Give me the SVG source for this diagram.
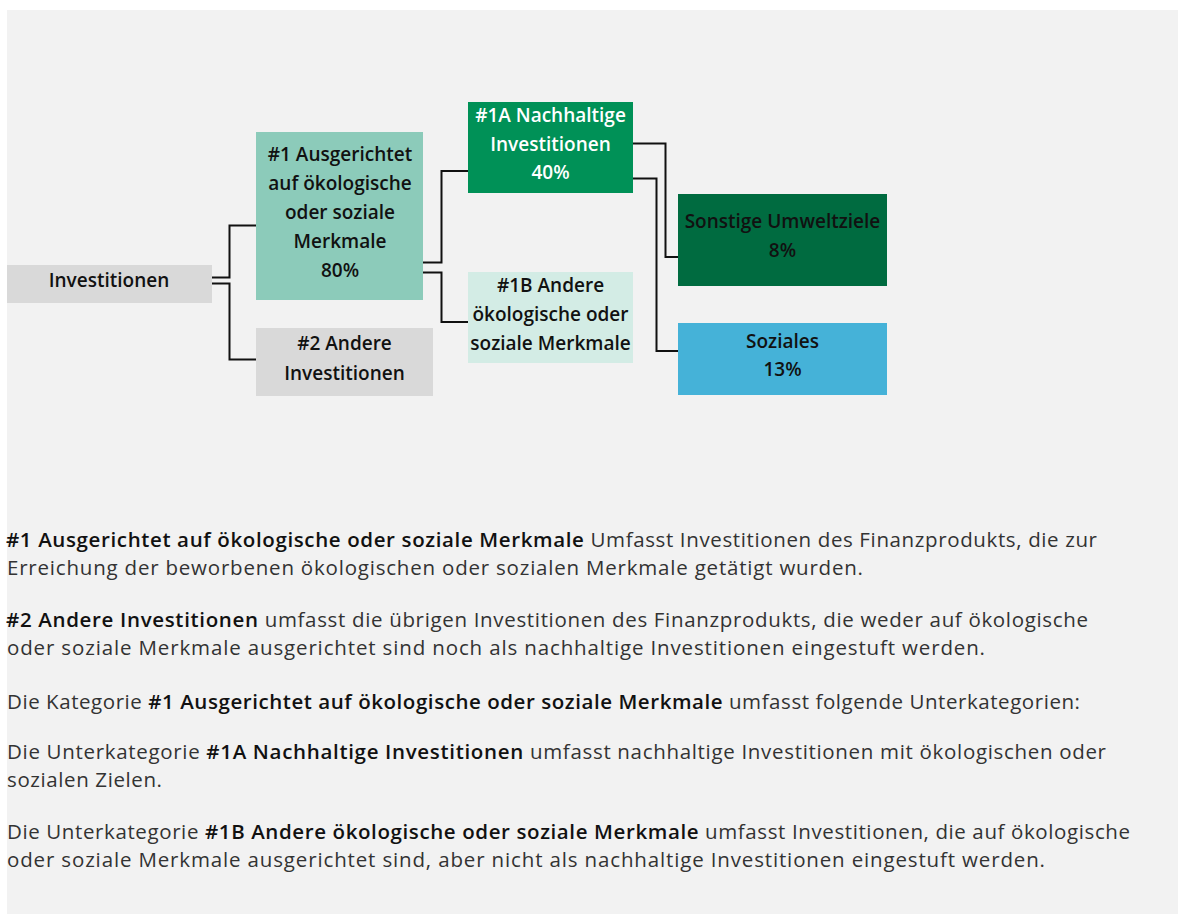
<svg xmlns="http://www.w3.org/2000/svg" width="1178" height="914" viewBox="0 0 1178 914">
<style>
.nt{font-family:"Open Sans","Liberation Sans",sans-serif;font-weight:600;font-size:19px;fill:#111;text-anchor:middle}
.nw{fill:#ffffff}
.bt{font-family:"Open Sans","Liberation Sans",sans-serif;font-weight:400;font-size:20.5px;fill:#333}
.b{font-weight:600;fill:#111}
.cn{fill:none;stroke:#111;stroke-width:2}
</style>
<rect x="0" y="0" width="1178" height="914" fill="#ffffff"/>
<rect x="7" y="10" width="1171" height="904" fill="#f2f2f2"/>
<g id="connectors">
<path class="cn" d="M212 277.5 H229.5 V225.5 H256"/>
<path class="cn" d="M212 283.5 H229.5 V359.5 H256"/>
<path class="cn" d="M423 262.5 H441.5 V171 H468"/>
<path class="cn" d="M423 272.5 H441.5 V322 H468"/>
<path class="cn" d="M633 143.5 H665.5 V257 H678"/>
<path class="cn" d="M633 178.5 H656.5 V351 H678"/>
</g>
<g id="node-investitionen">
<rect x="7" y="265" width="205" height="38" fill="#d9d9d9"/>
<text class="nt" x="109" y="287">Investitionen</text>
</g>
<g id="node-1">
<rect x="256" y="132" width="167" height="168" fill="#8ccbba"/>
<text class="nt" x="340" y="161">#1 Ausgerichtet</text>
<text class="nt" x="340" y="190">auf ökologische</text>
<text class="nt" x="340" y="219">oder soziale</text>
<text class="nt" x="340" y="248">Merkmale</text>
<text class="nt" x="340" y="277">80%</text>
</g>
<g id="node-2">
<rect x="256" y="328" width="177" height="68" fill="#d9d9d9"/>
<text class="nt" x="344.5" y="350">#2 Andere</text>
<text class="nt" x="344.5" y="380">Investitionen</text>
</g>
<g id="node-1a">
<rect x="468" y="102" width="165" height="91" fill="#009157"/>
<text class="nt nw" x="550.5" y="122">#1A Nachhaltige</text>
<text class="nt nw" x="550.5" y="151">Investitionen</text>
<text class="nt nw" x="550.5" y="179">40%</text>
</g>
<g id="node-1b">
<rect x="468" y="272" width="165" height="91" fill="#d3ece5"/>
<text class="nt" x="550.5" y="292">#1B Andere</text>
<text class="nt" x="550.5" y="321">ökologische oder</text>
<text class="nt" x="550.5" y="350">soziale Merkmale</text>
</g>
<g id="node-sonstige">
<rect x="678" y="194" width="209" height="92" fill="#006b40"/>
<text class="nt" x="782.5" y="228">Sonstige Umweltziele</text>
<text class="nt" x="782.5" y="257">8%</text>
</g>
<g id="node-soziales">
<rect x="678" y="323" width="209" height="72" fill="#45b2d8"/>
<text class="nt" x="782.5" y="348">Soziales</text>
<text class="nt" x="782.5" y="376">13%</text>
</g>
<g id="legend">
<text class="bt" x="6" y="547" textLength="1091" lengthAdjust="spacing"><tspan class="b">#1 Ausgerichtet auf ökologische oder soziale Merkmale</tspan> Umfasst Investitionen des Finanzprodukts, die zur</text>
<text class="bt" x="7" y="575" textLength="856" lengthAdjust="spacing">Erreichung der beworbenen ökologischen oder sozialen Merkmale getätigt wurden.</text>
<text class="bt" x="6" y="627" textLength="1082" lengthAdjust="spacing"><tspan class="b">#2 Andere Investitionen</tspan> umfasst die übrigen Investitionen des Finanzprodukts, die weder auf ökologische</text>
<text class="bt" x="7" y="655" textLength="978" lengthAdjust="spacing">oder soziale Merkmale ausgerichtet sind noch als nachhaltige Investitionen eingestuft werden.</text>
<text class="bt" x="7" y="709" textLength="1073" lengthAdjust="spacing">Die Kategorie <tspan class="b">#1 Ausgerichtet auf ökologische oder soziale Merkmale</tspan> umfasst folgende Unterkategorien:</text>
<text class="bt" x="7" y="759" textLength="1099" lengthAdjust="spacing">Die Unterkategorie <tspan class="b">#1A Nachhaltige Investitionen</tspan> umfasst nachhaltige Investitionen mit ökologischen oder</text>
<text class="bt" x="7" y="787" textLength="155" lengthAdjust="spacing">sozialen Zielen.</text>
<text class="bt" x="7" y="839" textLength="1123" lengthAdjust="spacing">Die Unterkategorie <tspan class="b">#1B Andere ökologische oder soziale Merkmale</tspan> umfasst Investitionen, die auf ökologische</text>
<text class="bt" x="7" y="867" textLength="1038" lengthAdjust="spacing">oder soziale Merkmale ausgerichtet sind, aber nicht als nachhaltige Investitionen eingestuft werden.</text>
</g>
</svg>
